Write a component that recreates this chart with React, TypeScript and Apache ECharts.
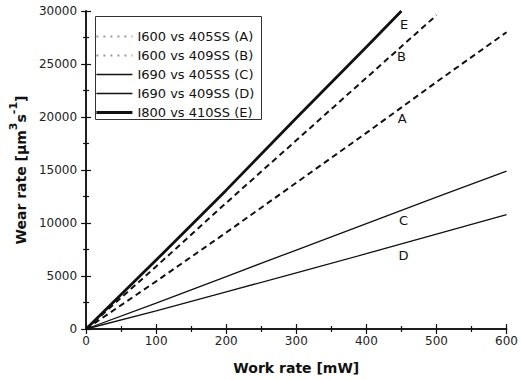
import React, { useEffect, useRef } from "react";
import * as echarts from "echarts";

const seriesNames = [
  "I600 vs 405SS (A)",
  "I600 vs 409SS (B)",
  "I690 vs 405SS (C)",
  "I690 vs 409SS (D)",
  "I800 vs 410SS (E)",
];
const shortLabels = ["A", "B", "C", "D", "E"];

const dataA: [number, number][] = [[0, 0], [100, 4500], [200, 9100], [300, 13800], [400, 18500], [500, 23300], [600, 28000]];
const dataB: [number, number][] = [[0, 0], [100, 5900], [200, 11900], [300, 17800], [400, 23700], [500, 29600]];
const dataC: [number, number][] = [[0, 0], [100, 2450], [200, 4950], [300, 7450], [400, 9950], [500, 12450], [600, 14900]];
const dataD: [number, number][] = [[0, 0], [100, 1700], [200, 3500], [300, 5300], [400, 7100], [500, 8950], [600, 10800]];
const dataE: [number, number][] = [[0, 0], [100, 6500], [200, 13100], [300, 19900], [400, 26600], [450, 30000]];

const labelPositions: [number, number][] = [
  [451, 19900],
  [450, 25700],
  [453, 10250],
  [453, 6950],
  [454, 28700],
];

const xTicks = [0, 100, 200, 300, 400, 500, 600];
const yTicks = [0, 5000, 10000, 15000, 20000, 25000, 30000];

const FONT = "DejaVu Sans";

export default function App() {
  const ref = useRef<HTMLDivElement>(null);
  useEffect(() => {
    if (!ref.current) return;
    const chart = echarts.init(ref.current, undefined, { renderer: "svg" });
    const allData = [dataA, dataB, dataC, dataD, dataE];
    const styles = [
      { width: 2, type: [6, 4] as any },
      { width: 2, type: [6, 4] as any },
      { width: 1.3, type: "solid" as any },
      { width: 1.3, type: "solid" as any },
      { width: 2.8, type: "solid" as any },
    ];
    const series = allData.map((d, i) => ({
      type: "line",
      name: seriesNames[i],
      data: d,
      symbol: "none",
      lineStyle: { color: "#111", width: styles[i].width, type: styles[i].type },
      itemStyle: { color: "#111" },
      markPoint: {
        symbol: "circle",
        symbolSize: 0,
        data: [{ coord: labelPositions[i], value: shortLabels[i] }],
        label: {
          show: true,
          formatter: shortLabels[i],
          color: "#111",
          fontFamily: FONT,
          fontSize: 13,
          position: "inside",
        },
      },
    }));
    const axisLine = { show: true, lineStyle: { color: "#111", width: 1.5 } };
    const tickStyle = { color: "#111", width: 1.2 };
    chart.setOption({
      animation: false,
      backgroundColor: "#fff",
      grid: { left: 83, right: 10, top: 11, bottom: 50, containLabel: false },
      legend: {
        orient: "vertical",
        left: 90,
        top: 25,
        itemWidth: 36,
        itemHeight: 12,
        itemGap: 6,
        itemStyle: { opacity: 0 },
        textStyle: { fontFamily: FONT, fontSize: 13, color: "#111" },
        data: seriesNames.map((n, i) =>
          i < 2
            ? { name: n, itemStyle: { opacity: 0 }, lineStyle: { color: "#999", type: [2, 5], width: 2 } }
            : { name: n, itemStyle: { opacity: 0 }, lineStyle: { color: "#111", width: styles[i].width } }
        ),
      },
      graphic: [
        {
          type: "rect",
          shape: { x: 95.5, y: 16.5, width: 166, height: 103 },
          style: { fill: "none", stroke: "#333", lineWidth: 1 },
          z: 10,
        },
      ],
      xAxis: [
        {
          type: "value",
          min: 0,
          max: 600,
          interval: 100,
          position: "bottom",
          name: "Work rate [mW]",
          nameLocation: "middle",
          nameGap: 32,
          nameTextStyle: { fontFamily: FONT, fontSize: 14, fontWeight: "bold", color: "#111" },
          axisLine,
          axisTick: { show: true, inside: true, length: 5, lineStyle: tickStyle },
          minorTick: { show: true, splitNumber: 2, length: 3, lineStyle: tickStyle },
          splitLine: { show: false },
          axisLabel: {
            fontFamily: FONT,
            fontSize: 12,
            color: "#222",
            margin: 6,
            formatter: (v: number) => (xTicks.includes(v) ? String(v) : ""),
          },
        },
        {
          type: "value",
          min: 0,
          max: 600,
          interval: 100,
          position: "top",
          axisLine,
          axisTick: { show: true, inside: true, length: 5, lineStyle: tickStyle },
          minorTick: { show: true, splitNumber: 2, length: 3, lineStyle: tickStyle },
          splitLine: { show: false },
          axisLabel: { show: false },
        },
      ],
      yAxis: [
        {
          type: "value",
          min: 0,
          max: 30000,
          interval: 5000,
          position: "left",
          name: "{b|Wear rate [μm}{s|3}{b|s}{s|-1}{b|]}",
          nameLocation: "middle",
          nameGap: 56,
          nameRotate: 90,
          nameTextStyle: {
            fontFamily: FONT,
            color: "#111",
            rich: {
              b: { fontFamily: FONT, fontSize: 14, fontWeight: "bold", color: "#111", lineHeight: 20, verticalAlign: "bottom" },
              s: { fontFamily: FONT, fontSize: 11, fontWeight: "bold", color: "#111", lineHeight: 20, verticalAlign: "top" },
            },
          },
          axisLine,
          axisTick: { show: true, inside: true, length: 5, lineStyle: tickStyle },
          minorTick: { show: true, splitNumber: 2, length: 3, lineStyle: tickStyle },
          splitLine: { show: false },
          axisLabel: {
            fontFamily: FONT,
            fontSize: 12,
            color: "#222",
            margin: 9,
            formatter: (v: number) => (yTicks.includes(v) ? String(v) : ""),
          },
        },
        {
          type: "value",
          min: 0,
          max: 30000,
          interval: 5000,
          position: "right",
          axisLine,
          axisTick: { show: true, inside: true, length: 5, lineStyle: tickStyle },
          minorTick: { show: true, splitNumber: 2, length: 3, lineStyle: tickStyle },
          splitLine: { show: false },
          axisLabel: { show: false },
        },
      ],
      series,
    });
    return () => chart.dispose();
  }, []);
  return (
    <div
      ref={ref}
      style={{ position: "fixed", left: 0, top: 0, width: 521, height: 380, background: "#fff" }}
    />
  );
}
